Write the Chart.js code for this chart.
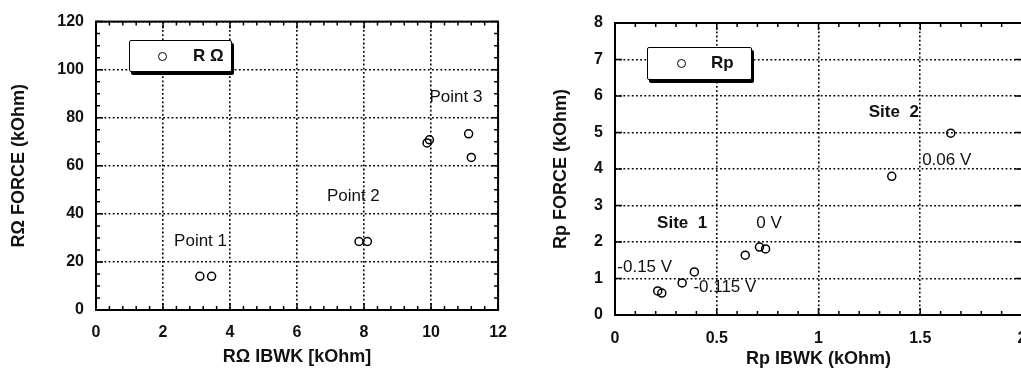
<!DOCTYPE html>
<html>
<head>
<meta charset="utf-8">
<script src="https://cdn.jsdelivr.net/npm/chart.js@4/dist/chart.umd.min.js"></script>
<style>
  html, body { margin:0; padding:0; background:#fff; width:1021px; height:373px; overflow:hidden; }
  .wrap { position:absolute; top:0; height:373px; }
  .legend { position:absolute; background:#fff; border:1.5px solid #000; border-radius:2px;
            box-shadow:2px 3px 0 #000; font-family:'Liberation Sans', Arial, sans-serif;
            font-weight:bold; color:#111; box-sizing:border-box; }
  .legend .mk { position:absolute; width:7px; height:7px; border:1.5px solid #000; border-radius:50%; }
  .legend .tx { position:absolute; white-space:nowrap; }
</style>
</head>
<body>
<div class="wrap" style="left:0;width:520px"><canvas id="c1" width="520" height="373"></canvas></div>
<div class="wrap" style="left:520px;width:530px"><canvas id="c2" width="530" height="373"></canvas></div>

<div class="legend" style="left:129px;top:40px;width:103px;height:32px">
  <div class="mk" style="left:28px;top:11px"></div>
  <div class="tx" style="left:63px;top:5px;font-size:17px">R Ω</div>
</div>
<div class="legend" style="left:647px;top:47px;width:105px;height:33px">
  <div class="mk" style="left:29px;top:11px"></div>
  <div class="tx" style="left:63px;top:5px;font-size:17px">Rp</div>
</div>

<script>
// ---------- Data: left chart (RΩ) ----------
const rOmegaIbwk  = [3.1, 3.45, 7.85, 8.1, 9.88, 9.95, 11.12, 11.2];
const rOmegaForce = [14, 14, 28.5, 28.5, 69.5, 70.8, 73.3, 63.5];
const rOmegaNoteText = ['Point 1', 'Point 2', 'Point 3'];
const rOmegaNoteX    = [3.12, 7.68, 10.74];
const rOmegaNoteY    = [28.7, 47.1, 88.5];

// ---------- Data: right chart (Rp) ----------
const rpIbwk  = [0.21, 0.23, 0.33, 0.39, 0.64, 0.71, 0.74, 1.36, 1.65];
const rpForce = [0.66, 0.6, 0.88, 1.18, 1.64, 1.86, 1.81, 3.8, 4.98];
const rpNoteText = ['Site  1', '0 V', '-0.15 V', '-0.115 V', 'Site  2', '0.06 V'];
const rpNoteX    = [0.33, 0.757, 0.146, 0.54, 1.37, 1.63];
const rpNoteY    = [2.52, 2.52, 1.31, 0.77, 5.56, 4.25];
const rpNoteBold = [true, false, false, false, true, false];

// ---------- Axis labels ----------
const leftXTitle  = 'RΩ IBWK [kOhm]';
const leftYTitle  = 'RΩ FORCE (kOhm)';
const rightXTitle = 'Rp IBWK (kOhm)';
const rightYTitle = 'Rp FORCE (kOhm)';

const FONT = "'Liberation Sans', Arial, Helvetica, sans-serif";

const frameTicks = {
  id: 'frameTicks',
  afterDatasetsDraw(chart, args, o) {
    const {ctx, chartArea: a, scales: {x, y}} = chart;
    ctx.save();
    ctx.strokeStyle = '#000';
    ctx.lineWidth = 1.5;
    ctx.beginPath();
    const eps = 1e-9;
    for (let v = x.min; v <= x.max + eps; v += o.xMinor) {
      const px = x.getPixelForValue(v);
      const major = Math.abs(v / o.xMajor - Math.round(v / o.xMajor)) < 1e-6;
      const len = major ? 7 : 4;
      ctx.moveTo(px, a.bottom); ctx.lineTo(px, a.bottom - len);
      ctx.moveTo(px, a.top); ctx.lineTo(px, a.top + len);
    }
    for (let v = y.min; v <= y.max + eps; v += o.yMinor) {
      const py = y.getPixelForValue(v);
      const major = Math.abs(v / o.yMajor - Math.round(v / o.yMajor)) < 1e-6;
      const len = major ? 7 : 4;
      ctx.moveTo(a.left, py); ctx.lineTo(a.left + len, py);
      ctx.moveTo(a.right, py); ctx.lineTo(a.right - len, py);
    }
    ctx.stroke();
    ctx.lineWidth = 2;
    ctx.strokeRect(a.left, a.top, a.right - a.left, a.bottom - a.top);
    // annotations
    ctx.fillStyle = '#111';
    ctx.textAlign = 'center';
    ctx.textBaseline = 'middle';
    o.notes.text.forEach((t, i) => {
      const bold = o.notes.bold && o.notes.bold[i];
      ctx.font = (bold ? 'bold 17px ' : '17px ') + FONT;
      ctx.fillText(t, x.getPixelForValue(o.notes.x[i]), y.getPixelForValue(o.notes.y[i]));
    });
    ctx.restore();
  }
};

function makeChart(id, cfg) {
  return new Chart(document.getElementById(id), {
    type: 'scatter',
    data: { datasets: [{
      data: cfg.xs.map((v, i) => ({x: v, y: cfg.ys[i]})),
      pointStyle: 'circle', pointRadius: 4, pointHoverRadius: 4,
      borderColor: '#000', borderWidth: 1.5, backgroundColor: 'rgba(0,0,0,0)'
    }]},
    options: {
      responsive: false, animation: false,
      layout: { padding: cfg.pad },
      plugins: { legend: {display: false}, tooltip: {enabled: false},
                 frameTicks: cfg.frame },
      scales: {
        x: {
          type: 'linear', min: cfg.xMin, max: cfg.xMax,
          afterFit: s => { s.height = cfg.xHeight; },
          ticks: { stepSize: cfg.xStep, padding: cfg.xTickPad, color: '#111',
                   font: {family: FONT, size: 16, weight: 'bold'}, maxRotation: 0, autoSkip: false,
                   callback: v => String(Number(v)) },
          grid: { color: '#000', lineWidth: 1.6, drawTicks: false },
          border: { display: false, dash: [1.8, 2.4] },
          title: { display: true, text: cfg.xTitle, color: '#111',
                   font: {family: FONT, size: 18, weight: 'bold'}, padding: {top: 0, bottom: cfg.xTitlePad} }
        },
        y: {
          type: 'linear', min: cfg.yMin, max: cfg.yMax,
          afterFit: s => { s.width = cfg.yWidth; },
          ticks: { stepSize: cfg.yStep, padding: 12, color: '#111',
                   font: {family: FONT, size: 16, weight: 'bold'}, autoSkip: false,
                   callback: v => String(Number(v)) },
          grid: { color: '#000', lineWidth: 1.6, drawTicks: false },
          border: { display: false, dash: [1.8, 2.4] },
          title: { display: true, text: cfg.yTitle, color: '#111',
                   font: {family: FONT, size: 18, weight: 'bold'}, padding: {top: cfg.yTitlePad, bottom: 0} }
        }
      }
    },
    plugins: [frameTicks]
  });
}

makeChart('c1', {
  xs: rOmegaIbwk, ys: rOmegaForce,
  xMin: 0, xMax: 12, xStep: 2, yMin: 0, yMax: 120, yStep: 20,
  xTitle: leftXTitle, yTitle: leftYTitle,
  pad: {left: 0, top: 17, right: 15, bottom: 0},
  yWidth: 96, xHeight: 63, xTickPad: 13, xTitlePad: 5, yTitlePad: 8,
  frame: { xMinor: 0.4, xMajor: 2, yMinor: 5, yMajor: 20,
           notes: {text: rOmegaNoteText, x: rOmegaNoteX, y: rOmegaNoteY} }
});

makeChart('c2', {
  xs: rpIbwk, ys: rpForce,
  xMin: 0, xMax: 2, xStep: 0.5, yMin: 0, yMax: 8, yStep: 1,
  xTitle: rightXTitle, yTitle: rightYTitle,
  pad: {left: 0, top: 23, right: 28, bottom: 0},
  yWidth: 95, xHeight: 58, xTickPad: 14, xTitlePad: 3, yTitlePad: 30,
  frame: { xMinor: 0.1, xMajor: 0.5, yMinor: 1, yMajor: 1,
           notes: {text: rpNoteText, x: rpNoteX, y: rpNoteY, bold: rpNoteBold} }
});
</script>
</body>
</html>
